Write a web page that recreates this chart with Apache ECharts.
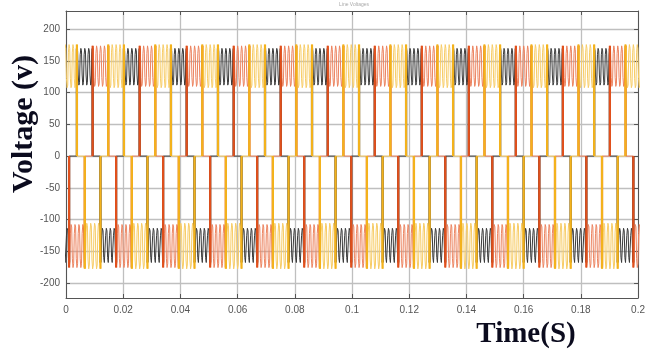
<!DOCTYPE html>
<html><head><meta charset="utf-8">
<script src="https://cdn.jsdelivr.net/npm/echarts@6/dist/echarts.min.js"></script>
<style>html,body{margin:0;padding:0;background:#fff}#c{width:648px;height:356px}</style>
</head><body><div id="c"></div>
<script>
// ---- tick labels ----
const xTicks = [0, 0.02, 0.04, 0.06, 0.08, 0.1, 0.12, 0.14, 0.16, 0.18, 0.2];
const xTickLabels = ['0', '0.02', '0.04', '0.06', '0.08', '0.1', '0.12', '0.14', '0.16', '0.18', '0.2'];
const yTicks = [-200, -150, -100, -50, 0, 50, 100, 150, 200];
const seriesNames = ['Vab', 'Vbc', 'Vca'];

// ---- waveform data (seconds) ----
const blockWidth = 0.00548;          // duration of each +/- conduction block
const ripplesPerBlock = 4;           // ripple cycles seen on each block
const blackPosStart = [0.00382, 0.02026, 0.03670, 0.05314, 0.06958, 0.08602, 0.10246, 0.11890, 0.13534, 0.15178, 0.16822, 0.18466];
const blackNegStart = [-0.00440, 0.01204, 0.02848, 0.04492, 0.06136, 0.07780, 0.09424, 0.11068, 0.12712, 0.14356, 0.16000, 0.17644, 0.19288];
const redPosStart = [0.00932, 0.02576, 0.04220, 0.05864, 0.07508, 0.09152, 0.10796, 0.12440, 0.14084, 0.15728, 0.17372, 0.19016];
const redNegStart = [0.00108, 0.01752, 0.03396, 0.05040, 0.06684, 0.08328, 0.09972, 0.11616, 0.13260, 0.14904, 0.16548, 0.18192, 0.19836];
const yellowPosStart = [-0.00167, 0.01477, 0.03121, 0.04765, 0.06409, 0.08053, 0.09697, 0.11341, 0.12985, 0.14629, 0.16273, 0.17917, 0.19561];
const yellowNegStart = [0.00657, 0.02301, 0.03945, 0.05589, 0.07233, 0.08877, 0.10521, 0.12165, 0.13809, 0.15453, 0.17097, 0.18741];
// one ripple cycle (volts), read from the plateaus
const blackTop = [170, 166, 128, 112, 116, 160];
const blackBot = [-168, -165, -125, -114, -118, -160];
const redTop = [174, 168, 124, 110, 114, 162];
const redBot = [-176, -170, -122, -108, -112, -162];
const yellowTop = [176, 170, 122, 108, 112, 164];
const yellowBot = [-178, -172, -120, -106, -110, -164];

const colors = {
  black: { edge: '#1a1a1a', wave: '#3a3a3a' },
  red: { edge: '#e0501c', wave: '#ec8460' },
  yellow: { edge: '#f3b21c', wave: '#f7cc66' }
};

function build(posStarts, negStarts, top, bot) {
  const blocks = posStarts.map(s => ({ s, shape: top }))
    .concat(negStarts.map(s => ({ s, shape: bot })))
    .sort((a, b) => a.s - b.s);
  const wave = [], edges = [];
  blocks.forEach(b => {
    const n = b.shape.length * ripplesPerBlock;
    const te = b.s + blockWidth;
    wave.push([b.s, 0]);
    for (let i = 0; i < n; i++) wave.push([b.s + blockWidth * i / n, b.shape[i % b.shape.length]]);
    wave.push([te, b.shape[0]]);
    wave.push([te, 0]);
    edges.push([b.s, 0], [b.s, b.shape[0]], [b.s, '-'], [te, b.shape[0]], [te, 0], [te, '-']);
  });
  return { wave, edges };
}

const phases = [
  { name: seriesNames[0], c: colors.black, d: build(blackPosStart, blackNegStart, blackTop, blackBot) },
  { name: seriesNames[1], c: colors.red, d: build(redPosStart, redNegStart, redTop, redBot) },
  { name: seriesNames[2], c: colors.yellow, d: build(yellowPosStart, yellowNegStart, yellowTop, yellowBot) }
];

const series = [];
phases.forEach(p => {
  series.push({ name: p.name, type: 'line', data: p.d.wave, showSymbol: false, symbol: 'none',
    lineStyle: { color: p.c.wave, width: 1 }, animation: false });
  series.push({ name: p.name + ' edges', type: 'line', data: p.d.edges, showSymbol: false, symbol: 'none',
    connectNulls: false, lineStyle: { color: p.c.edge, width: 2.2 }, animation: false });
});

const axisColor = '#555';
const gridColor = '#bfbfbf';
const labelStyle = { color: '#555', fontSize: 10, fontFamily: 'Arial, "Liberation Sans", sans-serif' };

const chart = echarts.init(document.getElementById('c'), null, { renderer: 'canvas' });
chart.setOption({
  animation: false,
  backgroundColor: '#fff',
  grid: { left: 66, right: 7, top: 11, bottom: 58, containLabel: false },
  xAxis: [
    { type: 'value', min: 0, max: 0.2, interval: 0.02,
      axisLine: { show: true, onZero: false, lineStyle: { color: axisColor, width: 1 } },
      axisTick: { show: true, inside: true, length: 4, lineStyle: { color: axisColor } },
      axisLabel: Object.assign({ margin: 7, formatter: v => {
        let best = 0; xTicks.forEach((t, i) => { if (Math.abs(t - v) < Math.abs(xTicks[best] - v)) best = i; });
        return xTickLabels[best]; } }, labelStyle),
      splitLine: { show: true, lineStyle: { color: gridColor, width: 1.3 } } },
    { type: 'value', position: 'top', min: 0, max: 0.2, interval: 0.02,
      axisLine: { show: true, onZero: false, lineStyle: { color: axisColor, width: 1 } },
      axisTick: { show: true, inside: true, length: 4, lineStyle: { color: axisColor } },
      axisLabel: { show: false }, splitLine: { show: false } }
  ],
  yAxis: [
    { type: 'value', min: -224, max: 229,
      axisLine: { show: true, onZero: false, lineStyle: { color: axisColor, width: 1 } },
      axisTick: { show: true, inside: true, length: 4, customValues: yTicks, lineStyle: { color: axisColor } },
      axisLabel: Object.assign({ margin: 6, customValues: yTicks }, labelStyle),
      splitLine: { show: true, lineStyle: { color: gridColor, width: 1.3 } } },
    { type: 'value', position: 'right', min: -224, max: 229,
      axisLine: { show: true, onZero: false, lineStyle: { color: axisColor, width: 1 } },
      axisTick: { show: true, inside: true, length: 4, customValues: yTicks, lineStyle: { color: axisColor } },
      axisLabel: { show: false }, splitLine: { show: false } }
  ],
  series: series,
  graphic: [
    { type: 'text', x: 24, y: 124, rotation: Math.PI / 2,
      style: { text: 'Voltage (v)', fontSize: 30, fontWeight: 'bold', fontFamily: '"Liberation Serif", "Times New Roman", serif',
        fill: '#0b0b1e', align: 'center', verticalAlign: 'middle' } },
    { type: 'text', x: 526, y: 335,
      style: { text: 'Time(S)', fontSize: 29, fontWeight: 'bold', fontFamily: '"Liberation Serif", "Times New Roman", serif',
        fill: '#0b0b1e', align: 'center', verticalAlign: 'middle' } },
    { type: 'text', x: 354, y: 5,
      style: { text: 'Line Voltages', fontSize: 5, fill: '#aaaaaa', align: 'center', verticalAlign: 'middle' } }
  ]
});
</script></body></html>
